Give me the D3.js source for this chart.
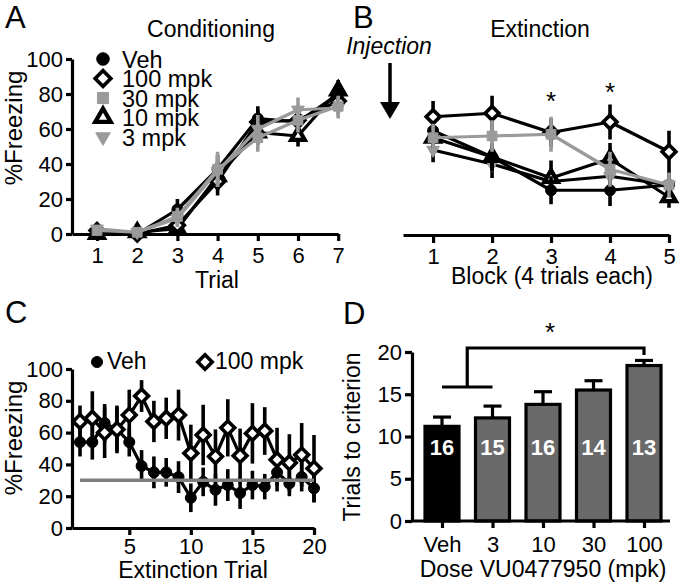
<!DOCTYPE html>
<html><head><meta charset="utf-8">
<script src="https://cdn.jsdelivr.net/npm/d3@7"></script>
<style>body{margin:0;background:#fff} svg text{font-family:"Liberation Sans",Arial,sans-serif}</style>
</head><body><svg id="chart" width="680" height="586"></svg>
<script>
// ---------- DATA ----------
const groups = ["Veh", "100 mpk", "30 mpk", "10 mpk", "3 mpk"];
const condTrials = [1, 2, 3, 4, 5, 6, 7];
const condVeh = [1, 0, 14, 37, 66, 64, 80];
const condVehErr = [2, 1, 6, 8, 7, 6, 6];
const cond100 = [2, 0, 5, 30, 64, 65, 76];
const cond100Err = [2, 1, 4, 8, 7, 6, 6];
const cond30 = [2, 1, 10, 37, 55, 65, 73];
const cond30Err = [2, 1, 5, 10, 8, 7, 6];
const cond10 = [0, 1, 3, 33, 58, 56, 82];
const cond10Err = [2, 1, 4, 8, 7, 6, 6];
const cond3 = [3, 1, 9, 36, 60, 71, 72];
const cond3Err = [2, 1, 5, 9, 8, 7, 6];

const blocks = [1, 2, 3, 4, 5];
const extVeh = [59, 44, 25, 25, 28];
const extVehErr = [6, 8, 8, 9, 7];
const ext100 = [67, 69, 58, 64, 47];
const ext100Err = [9, 10, 8, 10, 12];
const ext30 = [55, 56, 57, 37, 28];
const ext30Err = [8, 9, 10, 10, 7];
const ext10 = [55, 44, 32, 43, 21];
const ext10Err = [6, 7, 10, 9, 6];
const ext3 = [48, 40, 30, 33, 28];
const ext3Err = [7, 8, 7, 8, 7];
const sigBlocks = [3, 4];

const extTrials = d3.range(1, 21);
const trialVeh = [54, 54, 66, 62, 54, 39, 35, 35, 32, 19, 29, 24, 27, 22, 27, 26, 35, 28, 32, 25];
const trialVehErr = [9, 11, 12, 14, 9, 10, 10, 9, 10, 9, 9, 10, 10, 10, 9, 8, 8, 8, 9, 9];
const trial100 = [67, 69, 60, 62, 71, 83, 67, 69, 71, 47, 58.5, 45, 63, 45.5, 59.5, 61, 43, 41, 46, 37.5];
const trial100Err = [10, 17, 16, 15, 16, 10, 13, 13, 16, 18, 19, 17, 18, 17, 19, 15, 20, 18, 20, 21];
const criterion = 30;

const doses = ["Veh", "3", "10", "30", "100"];
const trialsToCriterion = [11.2, 12.2, 13.8, 15.5, 18.4];
const trialsToCriterionErr = [1.1, 1.4, 1.5, 1.1, 0.6];
const nPerGroup = [16, 15, 16, 14, 13];

const ticksFreezing = [0, 20, 40, 60, 80, 100];
const ticksCrit = [0, 5, 10, 15, 20];
const ticksExtTrial = [5, 10, 15, 20];

// ---------- STYLES ----------
const GRAY = "#9a9a9a";
const markerStyle = {
  "Veh":     {type: d3.symbolCircle,   size: 95,  rot: 0,   fill: "#000", stroke: "#000", sw: 1,   line: "#000"},
  "100 mpk": {type: d3.symbolSquare,   size: 95,  rot: 45,  fill: "#fff", stroke: "#000", sw: 3.6, line: "#000"},
  "30 mpk":  {type: d3.symbolSquare,   size: 95,  rot: 0,   fill: GRAY,   stroke: GRAY,   sw: 1,   line: GRAY},
  "10 mpk":  {type: d3.symbolTriangle, size: 80,  rot: 0,   fill: "#fff", stroke: "#000", sw: 4.2, line: "#000"},
  "3 mpk":   {type: d3.symbolTriangle, size: 70,  rot: 180, fill: GRAY,   stroke: GRAY,   sw: 1,   line: GRAY}
};

const svg = d3.select("#chart");
const FONT = "'Liberation Sans', Arial, sans-serif";
const fmt = d3.format("d");

function styleAxis(g, fs) {
  g.attr("font-family", FONT).attr("font-size", fs || 22);
  g.selectAll(".domain").attr("stroke", "#000").attr("stroke-width", 3.2);
  g.selectAll(".tick line").attr("stroke", "#000").attr("stroke-width", 3.2);
  g.selectAll(".tick text").attr("fill", "#000");
}

function addText(x, y, str, opts = {}) {
  const t = svg.append("text").attr("x", x).attr("y", y).text(str)
    .attr("font-size", opts.size || 23).attr("fill", opts.fill || "#000")
    .attr("text-anchor", opts.anchor || "start");
  if (opts.italic) t.attr("font-style", "italic");
  if (opts.bold) t.attr("font-weight", "bold");
  if (opts.rotate) t.attr("transform", `rotate(-90,${x},${y})`);
  return t;
}

function symbolAt(g, name, cx, cy, scale = 1) {
  const s = markerStyle[name];
  g.append("path")
    .attr("d", d3.symbol().type(s.type).size(s.size * scale)())
    .attr("transform", `translate(${cx},${cy}) rotate(${s.rot})`)
    .attr("fill", s.fill).attr("stroke", s.stroke).attr("stroke-width", s.sw)
    .attr("stroke-linejoin", "miter");
}

function drawSeries(g, x, y, xs, vals, errs, name, lineColor) {
  const s = markerStyle[name];
  const col = lineColor || s.line;
  const pts = xs.map((d, i) => ({x: d, v: vals[i], e: errs[i]}));
  const grp = g.append("g");
  grp.selectAll("line.err").data(pts).join("line")
    .attr("x1", d => x(d.x)).attr("x2", d => x(d.x))
    .attr("y1", d => y(d.v - d.e)).attr("y2", d => y(d.v + d.e))
    .attr("stroke", col)
    .attr("stroke-width", 3.6);
  grp.append("path").datum(pts)
    .attr("d", d3.line().x(d => x(d.x)).y(d => y(d.v)))
    .attr("fill", "none").attr("stroke", col).attr("stroke-width", 3.2)
    .attr("stroke-linejoin", "round");
  pts.forEach(d => symbolAt(grp, name, x(d.x), y(d.v)));
}

// ---------- PANEL A ----------
const yA = d3.scaleLinear().domain([0, 100]).range([234, 59]);
const xA = d3.scaleLinear().domain([0.378, 7]).range([72, 338.2]);
svg.append("g").attr("transform", "translate(72,0)")
  .call(d3.axisLeft(yA).tickValues(ticksFreezing).tickFormat(fmt).tickSize(6).tickPadding(3).tickSizeOuter(0))
  .call(g => styleAxis(g));
svg.append("g").attr("transform", "translate(0,234)")
  .call(d3.axisBottom(xA).tickValues(condTrials).tickFormat(fmt).tickSize(7).tickPadding(6).tickSizeOuter(0))
  .call(g => styleAxis(g));
const gA = svg.append("g");
const condVals = {"Veh": [condVeh, condVehErr], "100 mpk": [cond100, cond100Err], "10 mpk": [cond10, cond10Err],
                  "30 mpk": [cond30, cond30Err], "3 mpk": [cond3, cond3Err]};
["10 mpk", "100 mpk", "Veh", "30 mpk", "3 mpk"].forEach(n => drawSeries(gA, xA, yA, condTrials, condVals[n][0], condVals[n][1], n));
addText(5, 28, "A", {size: 31});
addText(211, 37, "Conditioning", {anchor: "middle"});
addText(22, 128, "%Freezing", {anchor: "middle", rotate: true, size: 24});
addText(217, 288, "Trial", {anchor: "middle"});
// legend
const legY = d3.scalePoint().domain(groups).range([59, 137]);
groups.forEach(n => {
  symbolAt(svg, n, 103, legY(n), 1.3);
  addText(122, legY(n) + 8.5, n, {size: 23.5});
});

// ---------- PANEL B ----------
const xB = d3.scaleLinear().domain([0.49, 5]).range([403, 669]);
svg.append("g").attr("transform", "translate(0,235)")
  .call(d3.axisBottom(xB).tickValues(blocks).tickFormat(fmt).tickSize(8).tickPadding(5).tickSizeOuter(0))
  .call(g => styleAxis(g));
const gB = svg.append("g");
drawSeries(gB, xB, yA, blocks, ext3, ext3Err, "3 mpk", "#000");
drawSeries(gB, xB, yA, blocks, ext10, ext10Err, "10 mpk");
drawSeries(gB, xB, yA, blocks, extVeh, extVehErr, "Veh");
drawSeries(gB, xB, yA, blocks, ext100, ext100Err, "100 mpk");
drawSeries(gB, xB, yA, blocks, ext30, ext30Err, "30 mpk");
addText(353, 28, "B", {size: 31});
addText(540, 37, "Extinction", {anchor: "middle"});
addText(389, 54, "Injection", {anchor: "middle", italic: true});
svg.append("line").attr("x1", 390).attr("x2", 390).attr("y1", 63).attr("y2", 104)
  .attr("stroke", "#000").attr("stroke-width", 3.5);
svg.append("path").attr("d", "M380,102 L400,102 L390,119 Z").attr("fill", "#000");
addText(0, 110, "*", {anchor: "middle", size: 26}).attr("x", xB(sigBlocks[0]));
addText(0, 101, "*", {anchor: "middle", size: 26}).attr("x", xB(sigBlocks[1]));
addText(552, 284, "Block (4 trials each)", {anchor: "middle"});

// ---------- PANEL C ----------
const yC = d3.scaleLinear().domain([0, 100]).range([528, 369]);
const xC = d3.scaleLinear().domain([0.35, 20]).range([72, 314]);
svg.append("g").attr("transform", "translate(72,0)")
  .call(d3.axisLeft(yC).tickValues(ticksFreezing).tickFormat(fmt).tickSize(6).tickPadding(3).tickSizeOuter(0))
  .call(g => styleAxis(g));
svg.append("g").attr("transform", "translate(0,528)")
  .call(d3.axisBottom(xC).tickValues(ticksExtTrial).tickFormat(fmt).tickSize(7).tickPadding(3).tickSizeOuter(0))
  .call(g => styleAxis(g));
const gC = svg.append("g");
drawSeries(gC, xC, yC, extTrials, trialVeh, trialVehErr, "Veh");
drawSeries(gC, xC, yC, extTrials, trial100, trial100Err, "100 mpk");
gC.append("line").attr("x1", xC(1)).attr("x2", xC(20)).attr("y1", yC(criterion)).attr("y2", yC(criterion))
  .attr("stroke", "#7f7f7f").attr("stroke-width", 3.5);
addText(5, 323, "C", {size: 31});
addText(22, 438, "%Freezing", {anchor: "middle", rotate: true, size: 24});
addText(193, 578, "Extinction Trial", {anchor: "middle"});
symbolAt(svg, "Veh", 97, 362);
addText(107, 369, "Veh");
symbolAt(svg, "100 mpk", 205, 362, 1.1);
addText(215, 369, "100 mpk");

// ---------- PANEL D ----------
const yD = d3.scaleLinear().domain([0, 20]).range([521, 352]);
const xD = d3.scalePoint().domain(doses).range([416.75, 669.25]).padding(0.5);
const barW = 34;
const gD = svg.append("g");
doses.forEach((d, i) => {
  const cx = xD(d);
  gD.append("line").attr("x1", cx).attr("x2", cx)
    .attr("y1", yD(trialsToCriterion[i])).attr("y2", yD(trialsToCriterion[i] + trialsToCriterionErr[i]))
    .attr("stroke", "#000").attr("stroke-width", 3.2);
  gD.append("line").attr("x1", cx - 9).attr("x2", cx + 9)
    .attr("y1", yD(trialsToCriterion[i] + trialsToCriterionErr[i])).attr("y2", yD(trialsToCriterion[i] + trialsToCriterionErr[i]))
    .attr("stroke", "#000").attr("stroke-width", 3.2);
});
gD.selectAll("rect").data(doses).join("rect")
  .attr("x", d => xD(d) - barW / 2).attr("width", barW)
  .attr("y", (d, i) => yD(trialsToCriterion[i])).attr("height", (d, i) => yD(0) - yD(trialsToCriterion[i]))
  .attr("fill", (d, i) => i === 0 ? "#000" : "#6a6a6a").attr("stroke", "#000").attr("stroke-width", 3.2);
gD.selectAll("text.n").data(doses).join("text")
  .attr("x", d => xD(d)).attr("y", 455).attr("text-anchor", "middle")
  .attr("font-size", 22).attr("font-weight", "bold").attr("fill", "#fff")
  .attr("font-family", FONT)
  .text((d, i) => nPerGroup[i]);
svg.append("g").attr("transform", "translate(412,0)")
  .call(d3.axisLeft(yD).tickValues(ticksCrit).tickFormat(fmt).tickSize(7).tickPadding(3).tickSizeOuter(0))
  .call(g => styleAxis(g));
svg.append("g").attr("transform", "translate(0,521)")
  .call(d3.axisBottom(xD).tickSize(7).tickPadding(8).tickSizeOuter(0))
  .call(g => styleAxis(g))
  .call(g => g.select(".domain").attr("d", "M412,0H670"));
// significance bracket
const brY1 = 387, brY2 = 348;
const brMid = (xD("Veh") + xD("3")) / 2;
svg.append("path")
  .attr("d", `M${xD("Veh")},${brY1}H${xD("3")}M${brMid},${brY1}V${brY2}H${xD("100")}V${brY2 + 7}`)
  .attr("fill", "none").attr("stroke", "#000").attr("stroke-width", 3.2);
addText(550, 341, "*", {anchor: "middle", size: 26});
addText(343, 324, "D", {size: 31});
addText(360, 437, "Trials to criterion", {anchor: "middle", rotate: true});
addText(543, 577, "Dose VU0477950 (mpk)", {anchor: "middle"});
</script></body></html>
